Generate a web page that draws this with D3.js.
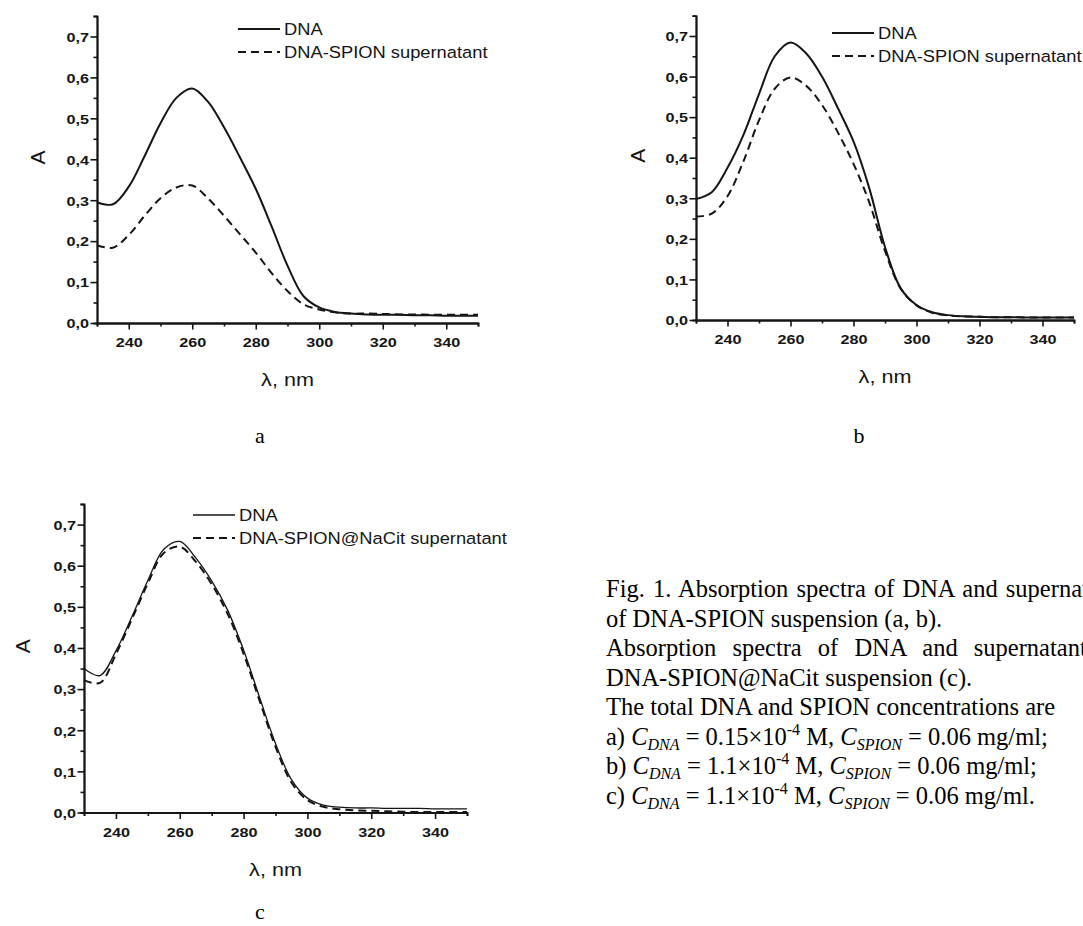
<!DOCTYPE html>
<html>
<head>
<meta charset="utf-8">
<script src="https://cdn.jsdelivr.net/npm/d3@7"></script>
<style>
body { margin: 0; background: #fff; }
svg { display: block; }
</style>
</head>
<body>
<script>
// wavelength grid (nm) shared by all spectra
var wavelength = [230,235,240,245,250,255,260,265,270,275,280,285,290,295,300,305,310,315,320,325,330,335,340,345,350];

// panel a
var dnaA = [0.295,0.290,0.333,0.408,0.488,0.550,0.573,0.540,0.478,0.405,0.328,0.236,0.140,0.066,0.038,0.027,0.023,0.021,0.020,0.020,0.019,0.019,0.018,0.018,0.018];
var supA = [0.190,0.184,0.215,0.262,0.305,0.331,0.336,0.304,0.262,0.217,0.172,0.122,0.078,0.046,0.033,0.026,0.023,0.023,0.022,0.021,0.021,0.020,0.020,0.020,0.020];
// panel b
var dnaB = [0.298,0.315,0.375,0.455,0.557,0.650,0.684,0.657,0.600,0.523,0.440,0.325,0.180,0.078,0.037,0.019,0.012,0.009,0.008,0.007,0.007,0.006,0.006,0.006,0.006];
var supB = [0.255,0.262,0.305,0.390,0.492,0.570,0.598,0.577,0.530,0.463,0.385,0.290,0.170,0.077,0.036,0.018,0.011,0.009,0.008,0.007,0.007,0.006,0.006,0.006,0.006];
// panel c
var dnaC = [0.350,0.333,0.393,0.476,0.564,0.640,0.659,0.619,0.563,0.492,0.395,0.280,0.168,0.080,0.035,0.018,0.013,0.011,0.011,0.010,0.010,0.010,0.009,0.009,0.009];
var supC = [0.322,0.315,0.385,0.470,0.557,0.631,0.646,0.610,0.555,0.483,0.386,0.272,0.160,0.073,0.030,0.014,0.008,0.005,0.004,0.003,0.002,0.001,0.001,0.001,0.001];

var yTickValues = [0,0.1,0.2,0.3,0.4,0.5,0.6,0.7];
var yMinorValues = [0.05,0.15,0.25,0.35,0.45,0.55,0.65,0.75];
var xTickValues = [240,260,280,300,320,340];
var xMinorValues = [230,250,270,290,310,330,350];

var legendAB = ["DNA","DNA-SPION supernatant"];
var legendC = ["DNA","DNA-SPION@NaCit supernatant"];

var captionFont = "'Liberation Serif','Times New Roman',serif";
var plotFont = "'Liberation Sans',Arial,sans-serif";
var ink = "#151515";

var svg = d3.select("body").append("svg")
    .attr("width", 1083)
    .attr("height", 926);

var panels = [
    {letter: "a", left: 97, right: 478, top: 16, bottom: 323, dna: dnaA, sup: supA, legend: legendAB,
     legendX: 238, legendY: 29, yLabelX: 38, letterX: 260, letterY: 443, dnaWidth: 2},
    {letter: "b", left: 696, right: 1074, top: 15.7, bottom: 320, dna: dnaB, sup: supB, legend: legendAB,
     legendX: 832, legendY: 33, yLabelX: 638, letterX: 859, letterY: 443, dnaWidth: 2},
    {letter: "c", left: 84, right: 467, top: 504, bottom: 812.5, dna: dnaC, sup: supC, legend: legendC,
     legendX: 193, legendY: 515, yLabelX: 23, letterX: 260, letterY: 919, dnaWidth: 1.3}
];

var fmt = function (d) { return d3.format(".1f")(d).replace(".", ","); };

panels.forEach(drawPanel);

function drawPanel(p) {
    var x = d3.scaleLinear().domain([230, 350]).range([p.left, p.right]);
    var y = d3.scaleLinear().domain([0, 0.75]).range([p.bottom, p.top]);
    var g = svg.append("g");

    //minor ticks first, no labels
    g.append("g")
        .attr("transform", "translate(" + p.left + ",0)")
        .call(d3.axisLeft(y).tickValues(yMinorValues).tickSize(3.5).tickFormat(""))
        .call(styleAxis);
    g.append("g")
        .attr("transform", "translate(0," + p.bottom + ")")
        .call(d3.axisBottom(x).tickValues(xMinorValues).tickSize(3.5).tickFormat(""))
        .call(styleAxis);

    //major ticks + labels
    var yAx = g.append("g")
        .attr("transform", "translate(" + p.left + ",0)")
        .call(d3.axisLeft(y).tickValues(yTickValues).tickSize(6.5).tickSizeOuter(0).tickFormat(fmt))
        .call(styleAxis);
    yAx.selectAll(".tick text")
        .attr("x", 0).attr("dy", "0.36em")
        .attr("transform", "translate(-8,0) scale(1.2,1)");

    var xAx = g.append("g")
        .attr("transform", "translate(0," + p.bottom + ")")
        .call(d3.axisBottom(x).tickValues(xTickValues).tickSize(6.5).tickSizeOuter(0))
        .call(styleAxis);
    xAx.selectAll(".tick text")
        .attr("y", 0).attr("dy", null)
        .attr("transform", "translate(0,24) scale(1.2,1)");

    //spectra
    var line = d3.line()
        .x(function (d, i) { return x(wavelength[i]); })
        .y(function (d) { return y(d); })
        .curve(d3.curveCatmullRom.alpha(0.5));

    g.append("path")
        .datum(p.sup)
        .attr("d", line)
        .attr("fill", "none")
        .attr("stroke", ink)
        .attr("stroke-width", 2)
        .attr("stroke-dasharray", "8,5");

    g.append("path")
        .datum(p.dna)
        .attr("d", line)
        .attr("fill", "none")
        .attr("stroke", ink)
        .attr("stroke-width", p.dnaWidth);

    //legend
    p.legend.forEach(function (label, i) {
        var ly = p.legendY + i * 23;
        g.append("line")
            .attr("x1", p.legendX).attr("x2", p.legendX + 42)
            .attr("y1", ly).attr("y2", ly)
            .attr("stroke", ink)
            .attr("stroke-width", i == 0 ? p.dnaWidth : 2)
            .attr("stroke-dasharray", i == 0 ? null : "8,5");
        g.append("text")
            .attr("transform", "translate(" + (p.legendX + 46) + "," + (ly + 6) + ") scale(1.11,1)")
            .attr("font-family", plotFont)
            .attr("font-size", 16.5)
            .attr("fill", ink)
            .text(label);
    });

    //axis titles
    g.append("text")
        .attr("transform", "translate(" + (p.yLabelX + 7) + "," + ((p.top + p.bottom) / 2 - 12) + ") rotate(-90)")
        .attr("text-anchor", "middle")
        .attr("font-family", plotFont)
        .attr("font-size", 21)
        .attr("fill", ink)
        .text("A");

    g.append("text")
        .attr("transform", "translate(" + ((p.left + p.right) / 2) + "," + (p.bottom + 63) + ") scale(1.2,1)")
        .attr("text-anchor", "middle")
        .attr("font-family", plotFont)
        .attr("font-size", 18)
        .attr("fill", ink)
        .text("λ, nm");

    //panel letter
    svg.append("text")
        .attr("x", p.letterX).attr("y", p.letterY)
        .attr("text-anchor", "middle")
        .attr("font-family", captionFont)
        .attr("font-size", 22)
        .attr("fill", "#000")
        .text(p.letter);
}

function styleAxis(sel) {
    sel.select(".domain").attr("stroke", ink).attr("stroke-width", 1.8);
    sel.selectAll(".tick line").attr("stroke", ink).attr("stroke-width", 1.6);
    sel.selectAll(".tick text")
        .attr("fill", ink)
        .attr("font-family", plotFont)
        .attr("font-size", 13.5)
        .attr("font-weight", "bold");
}

// caption
var capX = 606, capY = 597, capStep = 29.5;
var cap = svg.append("g")
    .attr("font-family", captionFont)
    .attr("font-size", 24.5)
    .attr("fill", "#000");

function capLine(i) {
    return cap.append("text").attr("x", capX).attr("y", capY + i * capStep);
}

capLine(0).attr("word-spacing", 2).text("Fig. 1. Absorption spectra of DNA and supernatant");
capLine(1).text("of DNA-SPION suspension (a, b).");
capLine(2).attr("word-spacing", 10).text("Absorption spectra of DNA and supernatant of");
capLine(3).text("DNA-SPION@NaCit suspension (c).");
capLine(4).text("The total DNA and SPION concentrations are");

var concLines = [
    ["a) ", "0.15×10", ";"],
    ["b) ", "1.1×10", ";"],
    ["c) ", "1.1×10", "."]
];
concLines.forEach(function (c, k) {
    var t = capLine(5 + k);
    t.append("tspan").text(c[0]);
    t.append("tspan").attr("font-style", "italic").text("C");
    t.append("tspan").attr("font-style", "italic").attr("font-size", 16).attr("dy", 5).text("DNA");
    t.append("tspan").attr("dy", -5).text(" = " + c[1]);
    t.append("tspan").attr("font-size", 16).attr("dy", -10).text("-4");
    t.append("tspan").attr("dy", 10).text(" M, ");
    t.append("tspan").attr("font-style", "italic").text("C");
    t.append("tspan").attr("font-style", "italic").attr("font-size", 16).attr("dy", 5).text("SPION");
    t.append("tspan").attr("dy", -5).text(" = 0.06 mg/ml" + c[2]);
});
</script>
</body>
</html>
